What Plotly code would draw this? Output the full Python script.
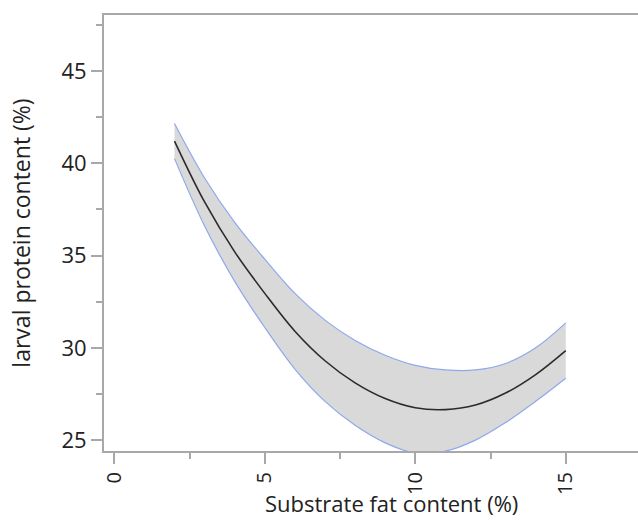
import plotly.graph_objects as go

fat = [2, 3, 4, 5, 6, 7, 8, 9, 10, 11, 12, 13, 14, 15]
protein_fit = [41.2, 37.9, 35.2, 32.95, 30.9, 29.3, 28.1, 27.25, 26.75, 26.65, 26.9, 27.55, 28.55, 29.85]
ci_upper = [42.15, 39.2, 36.8, 34.8, 32.95, 31.5, 30.4, 29.6, 29.05, 28.8, 28.8, 29.15, 30.0, 31.35]
ci_lower = [40.25, 36.6, 33.6, 31.1, 28.85, 27.1, 25.8, 24.85, 24.3, 24.4, 25.0, 25.95, 27.1, 28.35]

x_ticks = [0, 5, 10, 15]
y_ticks = [25, 30, 35, 40, 45]
x_title = "Substrate fat content (%)"
y_title = "larval protein content (%)"

band_col = "#8fa8ec"
fig = go.Figure()
fig.add_trace(go.Scatter(x=fat, y=ci_lower, mode="lines", line=dict(color=band_col, width=1.2, shape="spline"),
                         showlegend=False, hoverinfo="skip"))
fig.add_trace(go.Scatter(x=fat, y=ci_upper, mode="lines", line=dict(color=band_col, width=1.2, shape="spline"),
                         fill="tonexty", fillcolor="#d9d9d9", showlegend=False, hoverinfo="skip"))
fig.add_trace(go.Scatter(x=fat, y=protein_fit, mode="lines", line=dict(color="#2b2b2b", width=1.6, shape="spline"),
                         showlegend=False))

axis_col = "#a8a8a8"
font_fam = "Open Sans, Noto Sans, sans-serif"
fig.update_layout(
    width=638, height=522,
    margin=dict(l=104, r=0, t=15, b=71),
    paper_bgcolor="white", plot_bgcolor="white",
    font=dict(family=font_fam, color="#222222"),
    xaxis=dict(range=[-0.342, 17.40], tickvals=x_ticks, ticktext=[str(v) for v in x_ticks],
               tickangle=-90, ticks="outside", ticklen=11, tickwidth=1.5, tickcolor=axis_col,
               showline=True, linecolor=axis_col, linewidth=2, mirror=True, automargin=False,
               showgrid=False, zeroline=False, tickfont=dict(size=20, color="#222"),
               minor=dict(dtick=2.5, tick0=0, ticks="outside", ticklen=6, tickcolor=axis_col, tickwidth=1.5)),
    yaxis=dict(range=[24.41, 48.03], tickvals=y_ticks, ticktext=[str(v) for v in y_ticks],
               ticks="outside", ticklen=11, tickwidth=1.5, tickcolor=axis_col,
               showline=True, linecolor=axis_col, linewidth=2, automargin=False,
               showgrid=False, zeroline=False, tickfont=dict(size=22, color="#222"),
               minor=dict(dtick=2.5, tick0=0, ticks="outside", ticklen=6, tickcolor=axis_col, tickwidth=1.5),
               title=dict(text=y_title, font=dict(size=23, color="#222"), standoff=24)),
)
fig.add_annotation(text=x_title, xref="paper", yref="paper", x=0.539, y=-0.156,
                   xanchor="center", yanchor="bottom", showarrow=False, borderpad=0,
                   font=dict(size=22, color="#222", family=font_fam))

fig.write_html("out.html", config={"displayModeBar": False},
               post_script="document.body.style.margin='0';")
